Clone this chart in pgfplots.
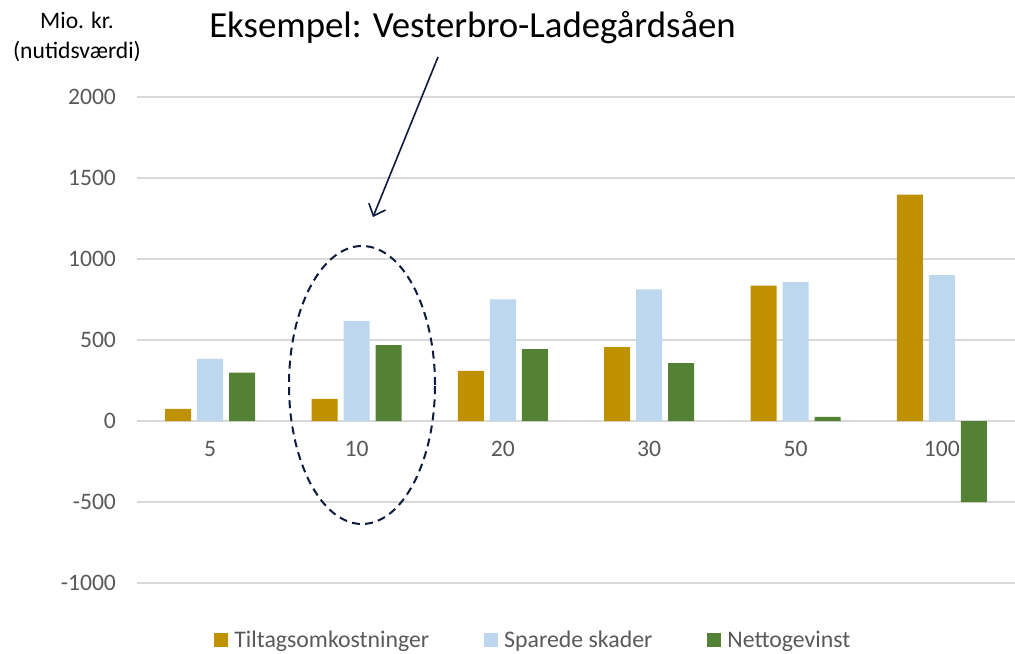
\documentclass[border=0pt]{standalone}
\usepackage{pgfplots}
\pgfplotsset{compat=1.18}
\usepackage{fontspec}
\setmainfont{Carlito}
\usetikzlibrary{arrows.meta}
\definecolor{tilt}{HTML}{BF9000}
\definecolor{spar}{HTML}{BDD7EE}
\definecolor{netto}{HTML}{548235}
\definecolor{gridc}{HTML}{D9D9D9}
\definecolor{txtg}{HTML}{595959}
\definecolor{navy}{HTML}{0D1B3E}
\begin{document}
\begin{tikzpicture}
\useasboundingbox (-68.5pt,-35pt) rectangle (439pt,291.5pt);
\begin{axis}[
  scale only axis,
  width=439pt, height=243pt,
  xmin=-0.5, xmax=5.5,
  ymin=-1000, ymax=2000,
  ytick={-1000,-500,0,500,1000,1500,2000},
  yticklabels={-1000,-500,0,500,1000,1500,2000},
  xtick={0,1,2,3,4,5},
  xticklabels={5,10,20,30,50,100},
  axis line style={draw=none},
  tick style={draw=none},
  major tick length=0pt,
  ymajorgrids,
  grid style={gridc, line width=0.75pt},
  ticklabel style={font=\fontsize{11.8}{14}\selectfont, text=txtg},
  xticklabel style={yshift=81pt, anchor=north, inner sep=0pt, yshift=-10pt},
  yticklabel style={anchor=east, xshift=-7pt},
  ybar=3pt, bar width=13pt,
  legend columns=3,
  legend style={draw=none, fill=none, at={(0.452,-0.118)}, anchor=center,
    font=\fontsize{11.9}{14}\selectfont, text=txtg,
    nodes={inner xsep=1.5pt},
    /tikz/every odd column/.append style={column sep=1.5pt},
    /tikz/every even column/.append style={column sep=26pt}},
  legend image code/.code={\fill[#1] (0pt,-3.5pt) rectangle (7pt,3.5pt);},
]
\addplot[fill=tilt, draw=none] coordinates {(0,75) (1,136) (2,309) (3,456) (4,835) (5,1398)};
\addplot[fill=spar, draw=none] coordinates {(0,383) (1,617) (2,750) (3,812) (4,858) (5,900)};
\addplot[fill=netto, draw=none] coordinates {(0,298) (1,469) (2,444) (3,358) (4,25) (5,-500)};
\legend{Tiltagsomkostninger, Sparede skader, Nettogevinst}
\end{axis}
\draw[navy, line width=1pt, dash pattern=on 4pt off 2.6pt] (112.5pt,99pt) ellipse [x radius=36.5pt, y radius=69.5pt];
\draw[navy, line width=0.8pt, -{Straight Barb[length=5pt,width=9pt]}] (150.5pt,263pt) -- (118pt,183pt);
\node[anchor=base, inner sep=0pt, font=\fontsize{18.4}{22}\selectfont] at (167.75pt,272.5pt) {Eksempel: Vesterbro-Ladegårdsåen};
\node[anchor=center, align=center, font=\fontsize{11.8}{15}\selectfont] at (-30pt,273pt) {Mio. kr.\\(nutidsværdi)};
\end{tikzpicture}
\end{document}
